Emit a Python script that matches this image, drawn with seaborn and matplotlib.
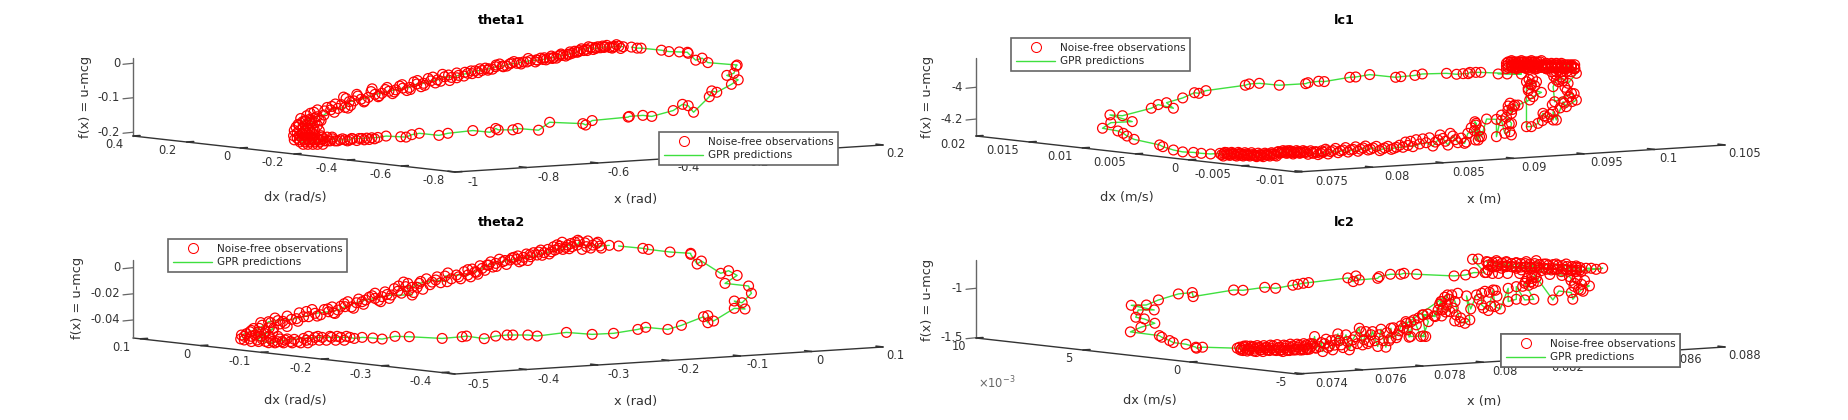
import numpy as np
import pandas as pd
import matplotlib
matplotlib.use('Agg')
import matplotlib.pyplot as plt
from matplotlib.lines import Line2D
import seaborn as sns

theta1_x = [-.529,-.541,-.554,-.567,-.580,-.593,-.606,-.619,-.632,-.646,-.659,-.672,-.684,-.697,-.710,-.724,-.736,-.753,-.769,-.789,-.808,-.827,-.847,-.867,-.886,-.905,-.925,-.944,-.964,-.990,-1.010,-1.029,-1.049,-1.068,-1.088,-1.107,-1.127,-1.146,-1.166,-1.185,-1.205,-1.224,-1.243,-1.263,-1.283,-1.296,-1.308,-1.328,-1.348,-1.367,-1.386,-1.406,-1.426,-1.439,
            -1.406,-1.392,-1.398,-1.412,-1.426,-1.442,-1.428,-1.414,-1.400,-1.386,-1.400,-1.414,-1.428,-1.442,-1.434,-1.420,-1.406,-1.392,-1.378,-1.372,-1.358,-1.364,-1.350,-1.344,-1.336,-1.322,-1.308,-1.294,
            -1.289,-1.261,-1.233,-1.216,-1.193,-1.152,-1.137,-1.121,-1.100,-1.045,-1.020,-.950,-.902,-.886,-.879,-.838,-.824,-.766,-.735,-.642,-.634,-.616,-.515,-.512,-.474,-.449,-.389,-.363,-.347,-.332,-.288,-.281,-.267,-.226,-.207,-.239,-.219,-.213,-.210,-.292,-.308,-.326,-.347,-.349,-.372,-.401,-.422,-.479,-.490,-.506]
theta1_f = [.048,.050,.049,.046,.048,.045,.043,.046,.041,.042,.032,.029,.026,.023,.021,.017,.015,.011,.009,.008,.004,.000,-.002,-.008,-.010,-.016,-.021,-.022,-.029,-.035,-.041,-.039,-.048,-.051,-.058,-.060,-.070,-.072,-.077,-.081,-.087,-.090,-.099,-.104,-.109,-.111,-.128,-.131,-.135,-.150,-.155,-.162,-.169,-.177,
            -.173,-.173,-.188,-.188,-.188,-.202,-.202,-.202,-.202,-.217,-.217,-.217,-.217,-.217,-.228,-.228,-.228,-.228,-.228,-.214,-.214,-.225,-.225,-.214,-.225,-.222,-.222,-.222,
            -.218,-.218,-.216,-.215,-.211,-.213,-.214,-.207,-.203,-.209,-.203,-.195,-.200,-.189,-.193,-.193,-.189,-.194,-.171,-.175,-.179,-.166,-.156,-.154,-.151,-.154,-.137,-.119,-.123,-.142,-.097,-.080,-.084,-.061,-.048,-.035,-.029,-.008,-.005,.002,.015,.009,.029,.032,.033,.034,.038,.044,.044,.047]
# observations in the packed stretches, with no line through them
theta1_more_x = [-.536,-.548,-.560,-.575,-.587,-.600,-.613,-.626,-.640,-.652,-.665,-.678,-.690,-.703,-.716,-.730,-.745,-.760,-.775,-.795,-.815,-.835,-.855,-.875,-.895,-.915,-.935,-.955,-.975,-.995,-1.015,-1.035,-1.055,-1.075,-1.095,-1.115,-1.135,-1.155,-1.175,-1.195,-1.215,-1.235,-1.253,-1.272,-1.292,-1.305,-1.318,-1.338,-1.335,-1.358,-1.375,-1.395,-1.415,-1.432,-1.445,-1.380,-1.392,
                 -1.420,-1.406,-1.436,-1.419,-1.405,-1.385,-1.450,-1.435,-1.420,-1.407,-1.393,-1.380,-1.452,-1.436,-1.421,-1.407,-1.393,-1.375,-1.450,-1.436,-1.421,-1.407,-1.393,-1.378,-1.425,-1.412,-1.398,-1.385,-1.370,
                 -1.369,-1.357,-1.343,-1.329,-1.315,-1.301,-1.287,-1.275,-1.268,-1.254,-1.247,-1.240,-1.225,
                 -.558,-.583,-.607,-.630,-.655,-.680,-.705,-.727,-.750,-.772,-.798,-.820,-.842,-.865,-.885,-.908,-.930,-.952,-.972,-.995,-1.018,-1.040,-1.062,-1.085,-1.105,-1.125,-1.148,-1.170,-1.190,-1.212,-1.232,-1.255,-1.275,-1.300,-1.312,-1.345,-1.365,-1.385,-1.405,-1.418]
theta1_more_f = [.043,.054,.044,.052,.050,.048,.040,.048,.037,.037,.035,.033,.021,.027,.015,.021,.010,.015,.004,.014,-.002,.005,-.008,-.002,-.017,-.014,-.027,-.022,-.037,-.028,-.050,-.032,-.057,-.044,-.068,-.054,-.079,-.066,-.088,-.076,-.097,-.082,-.109,-.095,-.122,-.102,-.120,-.142,-.118,-.128,-.166,-.142,-.152,-.160,-.185,-.165,-.158,
                 -.166,-.166,-.180,-.180,-.180,-.180,-.195,-.195,-.195,-.195,-.195,-.195,-.210,-.210,-.210,-.210,-.210,-.210,-.222,-.222,-.222,-.222,-.222,-.222,-.235,-.235,-.235,-.235,-.235,
                 -.219,-.225,-.219,-.225,-.219,-.225,-.219,-.224,-.218,-.222,-.217,-.221,-.219,
                 .047,.046,.046,.037,.033,.026,.024,.014,.016,.010,.004,.002,.001,-.010,-.005,-.020,-.016,-.030,-.026,-.042,-.034,-.052,-.040,-.064,-.050,-.076,-.062,-.083,-.070,-.094,-.074,-.112,-.090,-.130,-.098,-.125,-.138,-.135,-.145,-.168]

theta2_x = [-.284,-.297,-.307,-.316,-.326,-.329,-.336,-.342,-.349,-.355,-.365,-.375,-.385,-.394,-.404,-.414,-.423,-.433,-.443,-.453,-.462,-.472,-.482,-.498,-.514,-.511,-.527,-.550,-.560,-.569,-.579,-.560,-.589,-.602,-.612,-.625,-.638,-.654,-.664,-.677,-.696,-.712,-.729,-.748,-.761,-.774,-.787,-.799,-.795,-.780,-.767,-.754,-.777,-.761,-.748,-.738,-.725,-.712,-.696,-.686,-.673,-.660,-.647,-.641,-.630,-.615,-.602,-.584,-.564,-.518,-.490,-.484,-.459,-.443,-.427,-.419,-.398,-.385,-.344,-.308,-.278,-.244,-.233,-.202,-.183,-.152,-.146,-.146,-.138,-.109,-.094,-.109,-.098,-.085,-.089,-.122,-.105,-.117,-.128,-.155,-.161,-.170,-.170,-.199,-.229,-.237,-.271]
theta2_f = [.0171,.0166,.0173,.0161,.0199,.0173,.0161,.0173,.0140,.0148,.0122,.0115,.0097,.0084,.0079,.0064,.0059,.0046,.0033,.0020,-.0005,-.0031,-.0056,-.0056,-.0064,-.0107,-.0094,-.0120,-.0150,-.0145,-.0140,-.0209,-.0209,-.0222,-.0235,-.0247,-.0268,-.0298,-.0324,-.0337,-.0349,-.0375,-.0395,-.0405,-.0413,-.0464,-.0490,-.0515,-.0553,-.0515,-.0502,-.0464,-.0553,-.0574,-.0566,-.0553,-.0548,-.0541,-.0533,-.0533,-.0533,-.0533,-.0533,-.0541,-.0533,-.0538,-.0546,-.0525,-.0528,-.0541,-.0528,-.0523,-.0543,-.0523,-.0515,-.0515,-.0515,-.0523,-.0495,-.0510,-.0502,-.0472,-.0456,-.0472,-.0441,-.0375,-.0421,-.0367,-.0408,-.0311,-.0316,-.0255,-.0268,-.0196,-.0140,-.0120,-.0059,-.0023,-.0043,.0051,.0028,.0102,.0110,.0120,.0140,.0148,.0166]
theta2_more_x = [-.295,-.302,-.310,-.318,-.322,-.332,-.338,-.345,-.350,-.353,-.360,-.362,-.370,-.378,-.380,-.390,-.398,-.400,-.410,-.412,-.420,-.428,-.438,-.447,-.450,-.458,-.465,-.468,-.476,-.478,-.487,-.492,-.505,-.520,-.535,-.540,-.545,-.553,-.565,-.572,-.575,-.585,-.592,-.598,-.607,-.612,-.620,-.628,-.635,-.645,-.650,-.660,-.670,-.672,-.683,-.688,-.700,-.705,-.718,-.720,-.735,-.738,-.752,-.770,-.782,-.792,-.760,-.745,-.735,
                 -.795,-.785,-.772,-.760,-.748,-.800,-.788,-.770,-.758,-.745,-.735,-.785,-.775,-.765,-.755,-.742,-.730,-.720,-.752,-.740,-.728,-.716,-.706,-.708,-.700,-.690,-.680,-.667,-.655,-.705,-.692,-.675,-.665,-.652,-.775,-.765,-.755,
                 -.300,-.314,-.328,-.340,-.357,-.368,-.383,-.395,-.406,-.417,-.430,-.442,-.455,-.470,-.482,-.495,-.510,-.525,-.532,-.548,-.558,-.566,-.580,-.595,-.604,-.616,-.630,-.642,-.655,-.668,-.678,-.693,-.708,-.722,-.741,-.758,-.772,-.785]
theta2_more_f = [.0150,.0185,.0150,.0190,.0140,.0195,.0185,.0155,.0195,.0165,.0135,.0160,.0140,.0095,.0135,.0115,.0055,.0105,.0045,.0090,.0075,.0025,.0065,.0005,.0045,-.0020,.0015,-.0050,-.0010,-.0070,-.0030,-.0085,-.0085,-.0115,-.0130,-.0085,-.0165,-.0150,-.0175,-.0110,-.0195,-.0160,-.0235,-.0185,-.0250,-.0195,-.0225,-.0280,-.0240,-.0300,-.0260,-.0295,-.0345,-.0300,-.0320,-.0360,-.0320,-.0375,-.0345,-.0410,-.0370,-.0425,-.0385,-.0440,-.0465,-.0505,-.0460,-.0430,-.0450,
                 -.0525,-.0525,-.0525,-.0525,-.0525,-.0545,-.0545,-.0545,-.0545,-.0545,-.0545,-.0565,-.0565,-.0565,-.0565,-.0565,-.0565,-.0565,-.0575,-.0575,-.0575,-.0575,-.0575,-.0555,-.0555,-.0555,-.0555,-.0555,-.0555,-.0525,-.0525,-.0525,-.0525,-.0525,-.0490,-.0490,-.0490,
                 .0195,.0205,.0210,.0145,.0175,.0105,.0120,.0100,.0055,.0080,.0055,.0010,.0020,-.0035,-.0015,-.0070,-.0040,-.0070,-.0110,-.0105,-.0190,-.0120,-.0180,-.0205,-.0260,-.0215,-.0260,-.0310,-.0275,-.0350,-.0315,-.0370,-.0335,-.0390,-.0410,-.0420,-.0420,-.0480]

lc1_x = [.08891,.08955,.09056,.08768,.08733,.08691,.08679,.08643,.08596,.08525,.08353,.08301,.08201,.08164,.07980,.07881,.07839,.07658,.07618,.07543,.07526,.07339,.07197,.07125,.07098,.06819,.06769,.06737,.06654,.06539,.06588,.06480,.06431,.06227,.06138,.06296,.06144,.06085,.06194,.06233,.06259,.06309,.06490,.06513,.06588,.06654,.06730,.06786,.06852,
         .06918,.06942,.06965,.06989,.07012,.07036,.07060,.07083,.07107,.07130,.07154,.07178,.07201,.07225,.07248,.07272,.07296,.07319,.07343,.07366,.07390,.07414,.07437,.07461,.07484,.07508,.07543,.07579,.07614,.07650,.07685,.07720,.07756,.07791,.07827,.07862,.07897,.07933,.07968,.08004,.08051,.08086,.08133,.08169,.08216,.08251,.08287,.08334,.08381,.08428,.08464,.08499,.08535,.08570,.08605,.08653,.08676,.08723,.08730,.08759,.08735,
         .08726,.08733,.08750,.08761,.08773,.08809,.08879,.08879,.08915,.08915,.08938,.08974,.08986,.08950,.08962,.08986,.09009,.09033,.09115,.09139,.09198,.09104,.09127,.09163,.09092,.09092,.09127,.09174,.09209,.09281,.09281,.09304,.09351,.09375,.09446,.09411,.09292,.09281,.09304,.09351,.09387,.09446,
         .09434,.09410,.09375,.09340,.09304,.09269,.09233,.09198,.09163,.09127,.09092,.09056,.09021,.08986,.08950,.08950,.08986,.09021,.09056,.09092,.09127,.09163,.09198,.09233,.09269,.09304,.09340,.09375,.09410,.09434,.09410,.09375,.09340,.09304,.09269,.09233,.09198,.09163,.09127,.09092,.09056,.09021,.08986,.08950]
lc1_f = [-3.916,-3.916,-3.916,-3.906,-3.906,-3.906,-3.914,-3.914,-3.918,-3.912,-3.916,-3.925,-3.933,-3.937,-3.920,-3.935,-3.937,-3.964,-3.962,-3.971,-3.977,-3.987,-3.975,-3.979,-3.987,-4.021,-4.038,-4.034,-4.067,-4.097,-4.132,-4.109,-4.132,-4.179,-4.174,-4.216,-4.223,-4.258,-4.275,-4.290,-4.307,-4.328,-4.363,-4.374,-4.395,-4.407,-4.410,-4.416,-4.420,
         -4.416,-4.433,-4.412,-4.429,-4.416,-4.433,-4.416,-4.433,-4.420,-4.433,-4.424,-4.437,-4.424,-4.437,-4.424,-4.433,-4.420,-4.433,-4.416,-4.399,-4.416,-4.399,-4.420,-4.399,-4.416,-4.399,-4.422,-4.416,-4.424,-4.408,-4.420,-4.399,-4.412,-4.395,-4.408,-4.391,-4.403,-4.382,-4.395,-4.382,-4.399,-4.382,-4.391,-4.378,-4.378,-4.366,-4.374,-4.357,-4.349,-4.370,-4.332,-4.322,-4.364,-4.307,-4.349,-4.353,-4.290,-4.273,-4.332,-4.311,-4.227,
         -4.217,-4.238,-4.332,-4.269,-4.311,-4.200,-4.202,-4.311,-4.175,-4.210,-4.290,-4.280,-4.227,-4.189,-4.118,-4.164,-4.112,-4.112,-4.080,-4.059,-4.032,-4.007,-3.986,-3.965,-3.965,-4.248,-4.248,-4.227,-4.164,-4.206,-4.154,-4.206,-4.091,-4.122,-4.080,-4.038,-4.091,-3.996,-3.954,-3.944,-3.975,-3.912,
         -3.883,-3.866,-3.883,-3.866,-3.883,-3.866,-3.883,-3.866,-3.883,-3.866,-3.883,-3.866,-3.883,-3.866,-3.883,-3.849,-3.832,-3.849,-3.832,-3.849,-3.832,-3.849,-3.832,-3.849,-3.849,-3.849,-3.849,-3.866,-3.866,-3.883,-3.902,-3.902,-3.902,-3.902,-3.902,-3.883,-3.866,-3.866,-3.866,-3.866,-3.866,-3.866,-3.866,-3.866]
lc1_more_x = [.06930,.06953,.06977,.07001,.07024,.07048,.07071,.07095,.07119,.07142,.07166,.07189,.07213,.07237,.07260,.07284,.07307,.07331,.07355,.07378,.07402,.07425,.07449,.07473,.07496,.07520,.07561,.07597,.07632,.07667,.07703,.07738,.07773,.07809,.07844,.07880,.07915,.07950,.07986,.08027,.08068,.08110,.08150,.08192,.08234,.08270,.08310,.08357,.08404,.08446,.08480,.08517,.08552,.08588,.08629,.08665,.08700,
              .08962,.08981,.09000,.09019,.09038,.09057,.09076,.09095,.09114,.09133,.09152,.09171,.09190,.08962,.08986,.09009,.09033,.09056,.09080,.09104,.09127,.09151,.09175,.09198,.09222,.09245,.09269,.09293,.09316,.09340,.09364,.09387,.09411,.09434,.08962,.08986,.09009,.09033,.09056,.09080,.09104,.09127,.09151,.09175,.09198,.09222,.09245,.09269,.09293,.09316,.09340,.09364,.09387,.09411,.09434,
              .09110,.09120,.09135,.09150,.09105,.09125,.09285,.09300,.09320,.09335,.09350,.09365,.09380,.09395,.09205,.09220,.09240,.09260,.09275,.09330,.09360,.09395,.09415,.09430,.08960,.08975,.08990,.09000,.08970,.08985,
              .06947,.06971,.06995,.07018,.07042,.07065,.07089,.07113,.07136,.07160,.07184,.07207,.07231,.07254,.07278,.07302,.07325,.07349,.07372,.07396,.07420,.07443,.07467,.07490,.07514,.07530,.07570,.07605,.07640,.07675]
lc1_more_f = [-4.425,-4.410,-4.425,-4.410,-4.428,-4.410,-4.428,-4.412,-4.428,-4.412,-4.430,-4.415,-4.430,-4.415,-4.428,-4.412,-4.428,-4.405,-4.410,-4.405,-4.412,-4.405,-4.412,-4.405,-4.410,-4.405,-4.400,-4.405,-4.415,-4.390,-4.405,-4.385,-4.400,-4.380,-4.395,-4.375,-4.390,-4.370,-4.390,-4.372,-4.390,-4.372,-4.385,-4.365,-4.345,-4.340,-4.330,-4.325,-4.318,-4.345,-4.300,-4.340,-4.290,-4.330,-4.320,-4.345,-4.255,
              -3.840,-3.840,-3.840,-3.840,-3.840,-3.840,-3.840,-3.840,-3.840,-3.840,-3.840,-3.840,-3.840,-3.858,-3.858,-3.858,-3.858,-3.858,-3.858,-3.858,-3.858,-3.858,-3.858,-3.858,-3.858,-3.858,-3.858,-3.858,-3.858,-3.858,-3.858,-3.858,-3.858,-3.858,-3.875,-3.875,-3.875,-3.875,-3.875,-3.875,-3.875,-3.875,-3.875,-3.875,-3.875,-3.875,-3.875,-3.875,-3.875,-3.875,-3.875,-3.875,-3.875,-3.875,-3.875,
              -3.950,-3.980,-3.945,-3.990,-4.020,-4.040,-3.930,-3.920,-3.965,-3.935,-3.960,-4.000,-4.020,-4.060,-4.210,-4.180,-4.190,-4.170,-4.110,-4.130,-4.100,-4.060,-4.090,-4.040,-4.145,-4.100,-4.140,-4.120,-4.230,-4.300,
              -4.418,-4.420,-4.420,-4.420,-4.422,-4.420,-4.425,-4.425,-4.425,-4.430,-4.430,-4.430,-4.425,-4.425,-4.420,-4.420,-4.410,-4.410,-4.410,-4.400,-4.410,-4.410,-4.410,-4.410,-4.410,-4.410,-4.410,-4.410,-4.400,-4.400]

lc2_x = [.07983,.07964,.08005,.07968,.07941,.07903,.07779,.07737,.07726,.07692,.07655,.07650,.07589,.07578,.07569,.07551,.07421,.07404,.07386,.07369,.07312,.07276,.07204,.07173,.07039,.07036,.06990,.06924,.06884,.06834,.06910,.06857,.06849,.06877,.06912,.06866,.06831,.06927,.06935,.06961,.06973,.07015,.07048,.07050,.07070,.07185,
         .07193,.07204,.07215,.07226,.07237,.07248,.07259,.07270,.07281,.07292,.07303,.07314,.07325,.07336,.07347,.07358,.07369,.07380,.07391,.07402,.07413,.07424,.07435,.07441,.07446,.07463,.07468,.07479,.07490,.07501,.07512,.07518,.07529,.07545,.07556,.07567,.07589,.07600,.07611,.07622,.07633,.07650,.07661,.07677,.07694,.07694,.07716,.07727,.07743,.07754,.07770,.07793,.07809,.07798,.07837,.07859,.07864,.07881,
         .07746,.07759,.07801,.07818,.07801,.07840,.07862,.07867,.07889,.07895,.07906,.07922,.07939,.07955,.07944,.07958,.07977,.07994,.07994,.08016,.08032,.08038,.08056,.08082,.08082,.08109,.08109,.08137,.08167,.08137,.08159,.08170,.08230,.08250,.08291,.08296,.08323,.08351,.08302,.08285,
         .08010,.08027,.08043,.08060,.08076,.08093,.08109,.08126,.08142,.08159,.08175,.08192,.08208,.08225,.08241,.08258,.08274,.08291,.08307,.08324,.08340,.08357,.08373,.08395,.08307,.08274,.08241,.08208,.08175,.08142,.08109,.08076,.08043,.08016]
lc2_f = [-.703,-.706,-.841,-.841,-.865,-.875,-.858,-.848,-.858,-.858,-.882,-.899,-.915,-.875,-.932,-.895,-.942,-.949,-.959,-.969,-1.000,-.990,-1.020,-1.017,-1.084,-1.043,-1.057,-1.118,-1.169,-1.172,-1.219,-1.219,-1.293,-1.310,-1.354,-1.394,-1.441,-1.479,-1.495,-1.529,-1.549,-1.566,-1.596,-1.606,-1.596,-1.606,
         -1.596,-1.630,-1.583,-1.623,-1.589,-1.640,-1.596,-1.640,-1.596,-1.630,-1.583,-1.630,-1.596,-1.640,-1.583,-1.630,-1.583,-1.623,-1.576,-1.623,-1.573,-1.616,-1.562,-1.488,-1.606,-1.549,-1.640,-1.515,-1.583,-1.623,-1.522,-1.461,-1.573,-1.471,-1.623,-1.522,-1.404,-1.573,-1.438,-1.539,-1.438,-1.589,-1.414,-1.596,-1.404,-1.505,-1.471,-1.380,-1.337,-1.495,-1.320,-1.488,-1.488,-1.269,-1.279,-1.134,-1.219,-1.067,
         -1.354,-1.488,-1.482,-1.337,-1.269,-1.286,-1.134,-1.202,-1.236,-1.067,-1.134,-1.337,-1.354,-1.320,-1.077,-1.209,-1.067,-1.050,-1.168,-1.225,-1.017,-1.185,-1.209,-1.000,-1.134,-1.111,-.983,-1.118,-1.111,-.949,-.932,-.865,-1.118,-1.027,-1.043,-1.111,-1.017,-.976,-.949,-.882,
         -.730,-.781,-.720,-.797,-.730,-.781,-.740,-.814,-.730,-.787,-.720,-.821,-.754,-.814,-.754,-.831,-.754,-.821,-.774,-.831,-.797,-.797,-.808,-.797,-.831,-.814,-.808,-.808,-.781,-.781,-.797,-.781,-.781,-.814]
lc2_more_x = [.07199,.07210,.07221,.07232,.07243,.07254,.07265,.07276,.07287,.07298,.07309,.07320,.07331,.07342,.07353,.07364,.07375,.07386,.07397,.07408,.07419,.07430,.07441,.07196,.07207,.07218,.07229,.07240,.07251,.07262,.07273,.07284,.07295,.07306,.07317,.07328,.07339,.07350,.07361,.07372,.07383,.07394,.07405,.07416,.07427,
              .07458,.07474,.07485,.07496,.07507,.07523,.07535,.07550,.07562,.07575,.07583,.07595,.07605,.07617,.07628,.07640,.07655,.07668,.07680,.07688,.07702,.07712,.07722,.07735,.07748,.07760,.07778,.07785,.07815,
              .07855,.07872,.07880,.07875,.07885,.07900,.07910,.07915,.07925,.07850,.07862,.07905,
              .07985,.08000,.08005,.08020,.08025,.08040,.08045,
              .08130,.08145,.08150,.08160,.08165,.08175,.08180,.08140,
              .08290,.08300,.08310,.08315,.08325,.08330,.08335,
              .08016,.08031,.08047,.08062,.08077,.08093,.08108,.08124,.08139,.08154,.08170,.08185,.08200,.08216,.08231,.08247,.08262,.08277,.08293,.08308,.08320,
              .08016,.08031,.08047,.08062,.08077,.08093,.08108,.08124,.08139,.08154,.08170,.08185,.08200,.08216,.08231,.08247,.08262,.08277,.08293,.08308,.08320,
              .08010,.08030,.08050,.08080,.08120,.08160,.08220,.08260]
lc2_more_f = [-1.610,-1.600,-1.615,-1.600,-1.615,-1.605,-1.620,-1.605,-1.620,-1.605,-1.620,-1.605,-1.620,-1.605,-1.620,-1.600,-1.615,-1.595,-1.610,-1.590,-1.605,-1.590,-1.600,-1.625,-1.585,-1.635,-1.585,-1.635,-1.580,-1.625,-1.580,-1.625,-1.575,-1.625,-1.570,-1.630,-1.575,-1.630,-1.565,-1.625,-1.565,-1.625,-1.560,-1.620,-1.560,
              -1.590,-1.560,-1.600,-1.530,-1.575,-1.530,-1.600,-1.540,-1.580,-1.490,-1.560,-1.440,-1.520,-1.560,-1.470,-1.530,-1.470,-1.530,-1.450,-1.530,-1.400,-1.500,-1.430,-1.400,-1.420,-1.340,-1.370,-1.300,-1.260,
              -1.160,-1.090,-1.170,-1.240,-1.110,-1.200,-1.270,-1.050,-1.300,-1.220,-1.280,-1.330,
              -1.110,-1.200,-1.030,-1.040,-1.180,-1.020,-1.080,
              -.980,-.900,-.970,-.900,-.950,-.890,-.930,-.930,
              -.920,-.980,-.900,-1.010,-.960,-1.030,-.920,
              -.735,-.740,-.735,-.745,-.740,-.750,-.745,-.750,-.750,-.755,-.750,-.760,-.755,-.765,-.760,-.770,-.770,-.780,-.780,-.790,-.790,
              -.765,-.770,-.770,-.775,-.770,-.780,-.780,-.785,-.785,-.790,-.790,-.795,-.795,-.800,-.800,-.805,-.805,-.810,-.810,-.815,-.815,
              -.840,-.850,-.850,-.850,-.850,-.870,-.860,-.870]

x_ticks = {'theta1': ['-1', '-0.8', '-0.6', '-0.4', '-0.2', '0', '0.2'],
           'lc1': ['0.075', '0.08', '0.085', '0.09', '0.095', '0.1', '0.105'],
           'theta2': ['-0.5', '-0.4', '-0.3', '-0.2', '-0.1', '0', '0.1'],
           'lc2': ['0.074', '0.076', '0.078', '0.08', '0.082', '0.084', '0.086', '0.088']}
dx_ticks = {'theta1': ['0.4', '0.2', '0', '-0.2', '-0.4', '-0.6', '-0.8'],
            'lc1': ['0.02', '0.015', '0.01', '0.005', '0', '-0.005', '-0.01'],
            'theta2': ['0.1', '0', '-0.1', '-0.2', '-0.3', '-0.4'],
            'lc2': ['10', '5', '0', '-5']}
f_ticks = {'theta1': [0, -0.1, -0.2], 'lc1': [-4, -4.2],
           'theta2': [0, -0.02, -0.04], 'lc2': [-1, -1.5]}
f_labels = {'theta1': ['0', '-0.1', '-0.2'], 'lc1': ['-4', '-4.2'],
            'theta2': ['0', '-0.02', '-0.04'], 'lc2': ['-1', '-1.5']}

# layout, in pixels of the 1848x420 figure
W, H = 1848, 420
panels = {
    'theta1': dict(x=theta1_x, f=theta1_f, mx=theta1_more_x, mf=theta1_more_f,
                   xref=(455, -1), xk=.0028, fref=(63.3, 0), fk=.0029, dy=0,
                   left=133, front=455, right=883, rect=(100, 900), xl='x (rad)', dl='dx (rad/s)',
                   dlpos=(295, 197), xlpos=(636, 199), ylpos=(85, 97), x0=455, x1=883,
                   d0=133, d1=455, leg=(659, 132, 839, 165)),
    'lc1': dict(x=lc1_x, f=lc1_f, mx=lc1_more_x, mf=lc1_more_f,
                xref=(1725, .105), xk=1 / 14100, fref=(87.3, -4), fk=.0063, dy=0,
                left=976, front=1297, right=1725, rect=(950, 1780), xl='x (m)', dl='dx (m/s)',
                dlpos=(1127, 197), xlpos=(1484, 199), ylpos=(928, 97), x0=1302, x1=1725,
                d0=976, d1=1295, leg=(1011, 38, 1193, 71)),
    'theta2': dict(x=theta2_x, f=theta2_f, mx=theta2_more_x, mf=theta2_more_f,
                   xref=(455, -.5), xk=.0014, fref=(267.7, 0), fk=.000765, dy=202,
                   left=133, front=455, right=883, rect=(100, 900), xl='x (rad)', dl='dx (rad/s)',
                   dlpos=(295, 400), xlpos=(636, 402), ylpos=(78, 298), x0=455, x1=883,
                   d0=140.5, d1=442, leg=(168, 239, 350, 273)),
    'lc2': dict(x=lc2_x, f=lc2_f, mx=lc2_more_x, mf=lc2_more_f,
                xref=(1725, .088), xk=1 / 30200, fref=(288.3, -1), fk=.01012, dy=202,
                left=976, front=1297, right=1725, rect=(950, 1780), xl='x (m)', dl='dx (m/s)',
                dlpos=(1150, 400), xlpos=(1484, 402), ylpos=(928, 300), x0=1302, x1=1725,
                d0=976, d1=1297, leg=(1501, 334, 1681, 367)),
}

sns.set_style('white')
plt.rcParams['font.family'] = ['DejaVu Sans']
fig = plt.figure(figsize=(W / 100, H / 100), dpi=100)

frame = fig.add_axes([0, 0, 1, 1], zorder=5)
frame.set_xlim(0, W)
frame.set_ylim(H, 0)
frame.axis('off')
frame.patch.set_alpha(0)

AX = '#333333'
GREEN = '#3fe03f'
tick_fs = 8.3
label_fs = 9.3


def draw_panel(name, p):
    top, floor = 30 + p['dy'], 190 + p['dy']
    L, R = p['rect']
    ax = fig.add_axes([L / W, 1 - floor / H, (R - L) / W, (floor - top) / H], zorder=2)
    ax.set_xlim(p['xref'][1] + (L - p['xref'][0]) * p['xk'], p['xref'][1] + (R - p['xref'][0]) * p['xk'])
    ax.set_ylim(p['fref'][1] + (p['fref'][0] - floor) * p['fk'], p['fref'][1] + (p['fref'][0] - top) * p['fk'])
    ax.axis('off')
    line = pd.DataFrame({'x': p['x'], 'f': p['f']})
    obs = pd.DataFrame({'x': p['x'] + p['mx'], 'f': p['f'] + p['mf']})
    # green under the circles: packed stretches read red with only flecks of green
    sns.lineplot(data=line, x='x', y='f', ax=ax, sort=False, estimator=None, color=GREEN, lw=1.0,
                 legend=False, clip_on=False, zorder=2)
    sns.scatterplot(data=obs, x='x', y='f', ax=ax, s=50, facecolors='none', edgecolor='red',
                    linewidth=0.9, legend=False, clip_on=False, zorder=3)

    # projected box: floor edges and vertical axis
    dy = p['dy']
    back, front, right = (p['left'], 136 + dy), (p['front'], 172 + dy), (p['right'], 145 + dy)
    frame.plot([back[0], front[0], right[0]], [back[1], front[1], right[1]], color=AX, lw=1.0)
    frame.plot([back[0], back[0]], [58 + dy, back[1]], color='#666666', lw=1.0)

    for v, lab in zip(f_ticks[name], f_labels[name]):
        ypx = p['fref'][0] + (p['fref'][1] - v) / p['fk']
        frame.plot([back[0] - 10, back[0]], [ypx + 1, ypx], color='#666666', lw=0.9)
        frame.text(back[0] - 13, ypx, lab, ha='right', va='center', fontsize=tick_fs, color=AX)

    # x ticks sit along the front-right edge, dx ticks along the back-front edge
    labs = x_ticks[name]
    for i, lab in enumerate(labs):
        t = i / (len(labs) - 1)
        tx = p['x0'] + (p['x1'] - p['x0']) * t
        ty = front[1] + (right[1] - front[1]) * (tx - front[0]) / (right[0] - front[0])
        frame.plot([tx, tx - 7], [ty, ty - 0.8], color=AX, lw=1.2)
        frame.text(tx + 13 - 10 * t, ty + 10 - 1.5 * t, lab, ha='left', va='center', fontsize=tick_fs, color=AX)
    labs = dx_ticks[name]
    for i, lab in enumerate(labs):
        t = i / (len(labs) - 1)
        tx = p['d0'] + (p['d1'] - p['d0']) * t
        ty = back[1] + (front[1] - back[1]) * (tx - back[0]) / (front[0] - back[0])
        frame.plot([tx, tx + 7], [ty, ty - 0.4], color=AX, lw=1.2)
        frame.text(tx - 10, ty + 9, lab, ha='right', va='center', fontsize=tick_fs, color=AX)

    frame.text(*p['dlpos'], p['dl'], ha='center', va='center', fontsize=label_fs, color=AX)
    frame.text(*p['xlpos'], p['xl'], ha='center', va='center', fontsize=label_fs, color=AX)
    frame.text(*p['ylpos'], 'f(x) = u-mcg', rotation=90, ha='center', va='center', fontsize=label_fs, color=AX)
    frame.text((back[0] + right[0]) / 2 - 6, 21 + dy, name, ha='center', va='center',
               fontsize=9.2, fontweight='bold', color='black')

    # legend box
    x0, y0, x1, y1 = p['leg']
    handles = [Line2D([], [], ls='none', marker='o', mfc='none', mec='red', mew=0.75, ms=7.2),
               Line2D([], [], color=GREEN, lw=1.0)]
    leg = frame.legend(handles, ['Noise-free observations', 'GPR predictions'], loc='upper left',
                       bbox_to_anchor=(x0 / W, 1 - y0 / H), bbox_transform=fig.transFigure,
                       fontsize=7.6, fancybox=False, framealpha=1, edgecolor='#666666', borderaxespad=0,
                       handlelength=3.75, handletextpad=0.4, borderpad=0.45, labelspacing=0.33)
    leg.get_frame().set_linewidth(1.2)
    frame.add_artist(leg)


for name, p in panels.items():
    draw_panel(name, p)

frame.text(997, 383, r'$\times10^{-3}$', ha='center', va='center', fontsize=8.3, color='#666666')

fig.savefig('out.png', dpi=100)
